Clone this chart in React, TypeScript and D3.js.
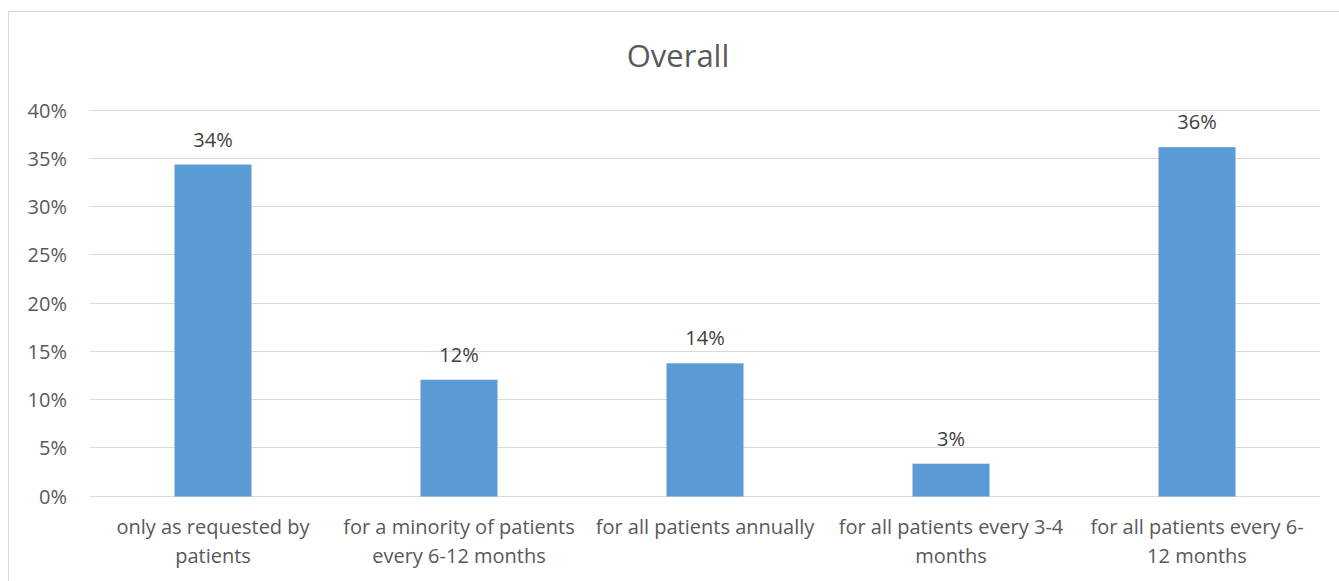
import React from "react";
import * as d3 from "d3";

// Survey answers: how often the check-up is offered
const categories: string[] = [
  "only as requested by\npatients",
  "for a minority of patients\nevery 6-12 months",
  "for all patients annually",
  "for all patients every 3-4\nmonths",
  "for all patients every 6-\n12 months",
];

// Share of respondents per answer
const shares: number[] = [0.344, 0.121, 0.138, 0.034, 0.362];

const yTicks: number[] = [0, 0.05, 0.1, 0.15, 0.2, 0.25, 0.3, 0.35, 0.4];

const title = "Overall";

const W = 1339;
const H = 581;
const FONT = "'Open Sans', 'DejaVu Sans', sans-serif";

export default function App() {
  const x = d3
    .scaleBand<string>()
    .domain(categories)
    .range([90, 1320])
    .paddingInner(0.687)
    .paddingOuter(0.3435);

  const y = d3.scaleLinear().domain([0, 0.4]).range([496.5, 110.5]);

  const pct = d3.format(".0%");

  return (
    <svg
      width={W}
      height={H}
      style={{ position: "absolute", left: 0, top: 0, background: "#fff" }}
      fontFamily={FONT}
    >
      {/* chart area frame */}
      <rect
        x={8.5}
        y={11.5}
        width={1340}
        height={600}
        fill="#fff"
        stroke="#d9d9d9"
        strokeWidth={1}
      />

      <text
        x={678}
        y={66.5}
        textAnchor="middle"
        fontSize={31}
        fill="#595959"
      >
        {title}
      </text>

      {/* gridlines and y tick labels */}
      {yTicks.map((t) => {
        const yy = Math.round(y(t)) - 0.5;
        return (
          <g key={t}>
            <line x1={90} x2={1320} y1={yy} y2={yy} stroke="#d9d9d9" strokeWidth={1} />
            <text
              x={67}
              y={yy + 7.5}
              textAnchor="end"
              fontSize={20}
              fill="#595959"
            >
              {pct(t)}
            </text>
          </g>
        );
      })}

      {/* bars */}
      {categories.map((c, i) => (
        <rect
          key={c}
          x={x(c)}
          y={y(shares[i])}
          width={x.bandwidth()}
          height={y(0) - y(shares[i])}
          fill="#5b9bd5"
        />
      ))}

      {/* data labels */}
      {categories.map((c, i) => (
        <text
          key={c}
          x={(x(c) as number) + x.bandwidth() / 2}
          y={y(shares[i]) - 18}
          textAnchor="middle"
          fontSize={20}
          fill="#404040"
        >
          {pct(shares[i])}
        </text>
      ))}

      {/* category labels */}
      {categories.map((c) => (
        <text
          key={c}
          x={(x(c) as number) + x.bandwidth() / 2}
          y={534}
          textAnchor="middle"
          fontSize={20}
          fill="#595959"
        >
          {c.split("\n").map((line, j) => (
            <tspan key={j} x={(x(c) as number) + x.bandwidth() / 2} dy={j === 0 ? 0 : 28.5}>
              {line}
            </tspan>
          ))}
        </text>
      ))}
    </svg>
  );
}
